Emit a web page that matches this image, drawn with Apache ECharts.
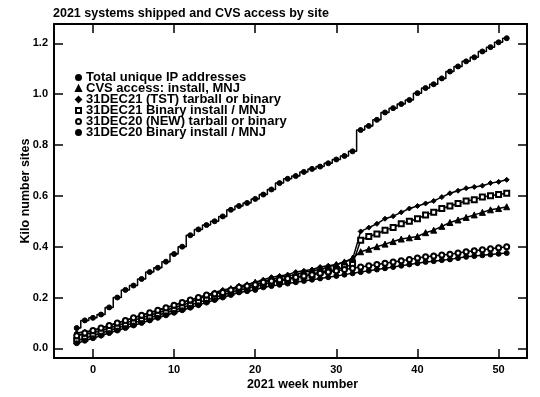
<!DOCTYPE html>
<html>
<head>
<meta charset="utf-8">
<script src="https://cdn.jsdelivr.net/npm/echarts@6/dist/echarts.min.js"></script>
<style>
  html, body { margin: 0; padding: 0; background: #fff; }
  #chart { width: 540px; height: 397px; }
</style>
</head>
<body>
<div id="chart"></div>
<script>
// weeks -2 .. 51
const weeks = [];
for (let w = -2; w <= 51; w++) weeks.push(w);

const totalIP = [
  0.08, 0.11, 0.12, 0.133, 0.161, 0.20, 0.23, 0.247, 0.273, 0.30,
  0.317, 0.341, 0.371, 0.40, 0.445, 0.468, 0.485, 0.50, 0.519, 0.545,
  0.56, 0.572, 0.588, 0.605, 0.625, 0.65, 0.667, 0.678, 0.694, 0.706,
  0.715, 0.728, 0.743, 0.757, 0.775, 0.859, 0.875, 0.899, 0.928, 0.945,
  0.961, 0.977, 1.004, 1.024, 1.039, 1.062, 1.089, 1.109, 1.129, 1.145,
  1.168, 1.185, 1.204, 1.22
];

const cvsAccess = [
  0.05, 0.055, 0.06, 0.07, 0.08, 0.09, 0.10, 0.11, 0.12, 0.13,
  0.14, 0.15, 0.16, 0.17, 0.18, 0.195, 0.205, 0.215, 0.225, 0.235,
  0.245, 0.25, 0.26, 0.265, 0.27, 0.28, 0.285, 0.29, 0.30, 0.305,
  0.31, 0.32, 0.33, 0.34, 0.355, 0.38, 0.39, 0.40, 0.41, 0.42,
  0.43, 0.435, 0.44, 0.455, 0.465, 0.48, 0.495, 0.505, 0.515, 0.525,
  0.535, 0.545, 0.55, 0.557
];

const tstTarball = [
  0.06, 0.065, 0.07, 0.08, 0.09, 0.10, 0.11, 0.12, 0.13, 0.14,
  0.15, 0.16, 0.17, 0.18, 0.19, 0.20, 0.21, 0.22, 0.23, 0.235,
  0.24, 0.25, 0.26, 0.27, 0.28, 0.285, 0.29, 0.30, 0.305, 0.31,
  0.32, 0.325, 0.33, 0.34, 0.35, 0.46, 0.475, 0.49, 0.51, 0.52,
  0.535, 0.55, 0.56, 0.57, 0.58, 0.595, 0.61, 0.62, 0.63, 0.635,
  0.64, 0.65, 0.655, 0.663
];

const binary21 = [
  0.03, 0.04, 0.05, 0.06, 0.07, 0.08, 0.09, 0.10, 0.11, 0.12,
  0.13, 0.14, 0.15, 0.16, 0.17, 0.18, 0.19, 0.20, 0.21, 0.22,
  0.23, 0.235, 0.245, 0.25, 0.26, 0.265, 0.27, 0.28, 0.285, 0.29,
  0.30, 0.305, 0.31, 0.32, 0.33, 0.425, 0.44, 0.45, 0.465, 0.475,
  0.49, 0.50, 0.51, 0.525, 0.535, 0.55, 0.56, 0.57, 0.58, 0.585,
  0.595, 0.60, 0.605, 0.61
];

const tarball20 = [
  0.05, 0.06, 0.07, 0.08, 0.09, 0.10, 0.11, 0.12, 0.13, 0.14,
  0.15, 0.16, 0.17, 0.18, 0.19, 0.20, 0.21, 0.215, 0.22, 0.23,
  0.24, 0.245, 0.25, 0.26, 0.265, 0.27, 0.275, 0.28, 0.285, 0.29,
  0.295, 0.30, 0.305, 0.31, 0.315, 0.32, 0.325, 0.33, 0.335, 0.34,
  0.345, 0.35, 0.355, 0.36, 0.363, 0.367, 0.37, 0.375, 0.38, 0.384,
  0.388, 0.392, 0.396, 0.40
];

const binary20 = [
  0.02, 0.03, 0.04, 0.05, 0.06, 0.07, 0.08, 0.09, 0.10, 0.11,
  0.12, 0.13, 0.14, 0.15, 0.16, 0.17, 0.18, 0.19, 0.20, 0.21,
  0.22, 0.225, 0.23, 0.24, 0.245, 0.25, 0.255, 0.26, 0.265, 0.27,
  0.275, 0.28, 0.285, 0.29, 0.295, 0.30, 0.305, 0.31, 0.315, 0.32,
  0.325, 0.33, 0.335, 0.34, 0.343, 0.347, 0.35, 0.355, 0.36, 0.363,
  0.366, 0.369, 0.372, 0.375
];

const seriesNames = [
  'Total unique IP addresses',
  'CVS access: install, MNJ',
  '31DEC21 (TST) tarball or binary',
  '31DEC21 Binary install / MNJ',
  '31DEC20 (NEW) tarball or binary',
  '31DEC20 Binary install / MNJ'
];
const seriesSymbols = ['circle', 'triangle', 'diamond', 'emptyRect', 'emptyCircle', 'circle'];
const seriesValues = [totalIP, cvsAccess, tstTarball, binary21, tarball20, binary20];

const font = '"Liberation Sans", Arial, sans-serif';

const chart = echarts.init(document.getElementById('chart'), null, { renderer: 'canvas' });

const series = seriesNames.map((name, i) => ({
  name: name,
  type: 'line',
  step: i === 0 ? 'middle' : false,
  data: weeks.map((w, j) => [w, seriesValues[i][j]]),
  symbol: seriesSymbols[i],
  symbolSize: i === 1 ? 6 : 5,
  lineStyle: { color: '#000', width: 1.5 },
  itemStyle: { color: '#000', borderColor: '#000', borderWidth: 1 },
  z: 3
}));

const labelX = (v) => (Math.abs(v % 10) < 1e-9 ? String(v) : '');
const labelY = (v) => (Math.abs(Math.round(v * 10) - v * 10) < 1e-6 && Math.round(v * 10) % 2 === 0 ? v.toFixed(1) : '');

const axisText = { fontFamily: font, fontSize: 11, fontWeight: 'bold', color: '#000' };
const nameText = { fontFamily: font, fontSize: 12.5, fontWeight: 'bold', color: '#000' };
const frameLine = { onZero: false, show: true, lineStyle: { color: '#000', width: 2 } };
const ticks = { show: true, inside: true, length: 9, lineStyle: { color: '#000', width: 1.5 } };

chart.setOption({
  animation: false,
  backgroundColor: '#fff',
  title: {
    text: '2021 systems shipped and CVS access by site',
    left: 48,
    top: 2,
    textStyle: { fontFamily: font, fontSize: 12.5, fontWeight: 'bold', color: '#000' }
  },
  legend: {
    orient: 'vertical',
    left: 75,
    top: 71,
    padding: 0,
    itemGap: -2,
    itemWidth: 5,
    itemHeight: 5,
    data: seriesNames.map((n, i) => ({ name: n, icon: seriesSymbols[i] })),
    textStyle: { fontFamily: font, fontSize: 13, fontWeight: 'bold', color: '#000' },
    selectedMode: false
  },
  grid: { left: 54, right: 13, top: 24, bottom: 39 },
  xAxis: [
    {
      type: 'value',
      min: -4.8,
      max: 53.5,
      splitNumber: 6,
      name: '2021 week number',
      nameLocation: 'middle',
      nameGap: 20,
      nameMoveOverlap: false,
      nameTextStyle: Object.assign({ padding: [0, 0, 0, 24] }, nameText),
      axisLine: frameLine,
      axisTick: ticks,
      axisLabel: Object.assign({ formatter: labelX, showMinLabel: false, showMaxLabel: false, margin: 6 }, axisText),
      splitLine: { show: false }
    },
    {
      type: 'value',
      position: 'top',
      min: -4.8,
      max: 53.5,
      splitNumber: 6,
      axisLine: frameLine,
      axisTick: ticks,
      axisLabel: { show: false },
      splitLine: { show: false }
    }
  ],
  yAxis: [
    {
      type: 'value',
      min: -0.038,
      max: 1.276,
      splitNumber: 7,
      name: 'Kilo number sites',
      nameLocation: 'middle',
      nameGap: 22,
      nameMoveOverlap: false,
      nameTextStyle: nameText,
      axisLine: frameLine,
      axisTick: ticks,
      axisLabel: Object.assign({ formatter: labelY, showMinLabel: false, showMaxLabel: false, margin: 6 }, axisText),
      splitLine: { show: false }
    },
    {
      type: 'value',
      position: 'right',
      min: -0.038,
      max: 1.276,
      splitNumber: 7,
      axisLine: frameLine,
      axisTick: ticks,
      axisLabel: { show: false },
      splitLine: { show: false }
    }
  ],
  series: series
});
</script>
</body>
</html>
